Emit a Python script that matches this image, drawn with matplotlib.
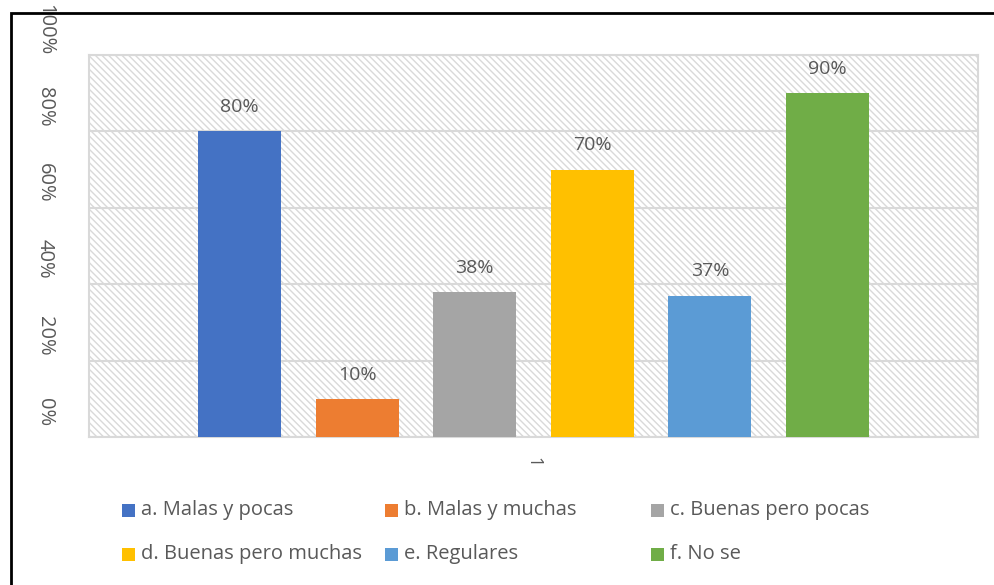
import matplotlib
matplotlib.use("Agg")
import matplotlib.pyplot as plt
from matplotlib.patches import Rectangle
import matplotlib.transforms as mtransforms

# ---- data ----
series = ["a. Malas y pocas", "b. Malas y muchas", "c. Buenas pero pocas",
          "d. Buenas pero muchas", "e. Regulares", "f. No se"]
values = [0.80, 0.10, 0.38, 0.70, 0.37, 0.90]
labels = ["80%", "10%", "38%", "70%", "37%", "90%"]
colors = ["#4472C4", "#ED7D31", "#A5A5A5", "#FFC000", "#5B9BD5", "#70AD47"]
yticks = [0, 0.2, 0.4, 0.6, 0.8, 1.0]
ytick_labels = ["0%", "20%", "40%", "60%", "80%", "100%"]
category = "1"
# --------------

plt.rcParams["font.family"] = ["Open Sans", "DejaVu Sans"]
plt.rcParams["hatch.linewidth"] = 1.0
txt = "#595959"

W, H = 995, 585
fig = plt.figure(figsize=(W / 100, H / 100), dpi=100)

# outer frame (runs off the right / bottom edges)
fig.patches.append(Rectangle((11 / W, -0.1), 1.2, (H - 13) / H + 0.1,
                             transform=fig.transFigure, fill=False,
                             edgecolor="black", linewidth=2))

ax = fig.add_axes([89 / W, 1 - 437 / H, (978 - 89) / W, (437 - 55) / H])
ax.patch.set_facecolor("white")
ax.patch.set_hatch("\\\\\\\\\\")
ax.patch.set_edgecolor("#d9d9d9")

slot = 0.1323
width = 0.0934
for i, (s, v, c, lab) in enumerate(zip(series, values, colors, labels)):
    x = (i - 2.5) * slot
    ax.bar(x, v, width=width, color=c, label=s, zorder=3)
    ax.annotate(lab, (x, v), xytext=(0, 11), textcoords="offset points",
                ha="center", va="bottom", fontsize=14, color=txt)

ax.set_xlim(-0.5, 0.5)
ax.set_ylim(0, 1.0)
ax.set_yticks(yticks)
ax.set_yticklabels([])
ax.set_xticks([])
ax.tick_params(length=0)
ax.grid(axis="y", color="#d9d9d9", linewidth=1.5, zorder=1)
ax.set_axisbelow(True)
for sp in ax.spines.values():
    sp.set_color("#d9d9d9")
    sp.set_linewidth(1.5)

# rotated y tick labels, shifted up as in the reference
off = mtransforms.offset_copy(ax.get_yaxis_transform(), fig=fig, x=0, y=25, units="dots")
for t, lab in zip(yticks, ytick_labels):
    ax.text(-44 / (978 - 89), t, lab, transform=off, rotation=-90,
            ha="center", va="center", fontsize=14.5, color=txt)

# rotated category label
ax.text(0, -25 / (437 - 55), category, transform=ax.get_xaxis_transform(),
        rotation=-90, ha="center", va="center", fontsize=13, color=txt)

# legend: 3 equal-width columns, filled row by row
col_x = [122, 385, 651]
row_y = [510, 554]
for i, (s, c) in enumerate(zip(series, colors)):
    x0 = col_x[i % 3]
    y0 = row_y[i // 3]
    fig.patches.append(Rectangle((x0 / W, 1 - (y0 + 6.5) / H), 13 / W, 13 / H,
                                 transform=fig.transFigure, facecolor=c,
                                 edgecolor="none"))
    fig.text((x0 + 19) / W, 1 - y0 / H, s, ha="left", va="center",
             fontsize=14.5, color=txt)

fig.savefig("out.png", dpi=100)
